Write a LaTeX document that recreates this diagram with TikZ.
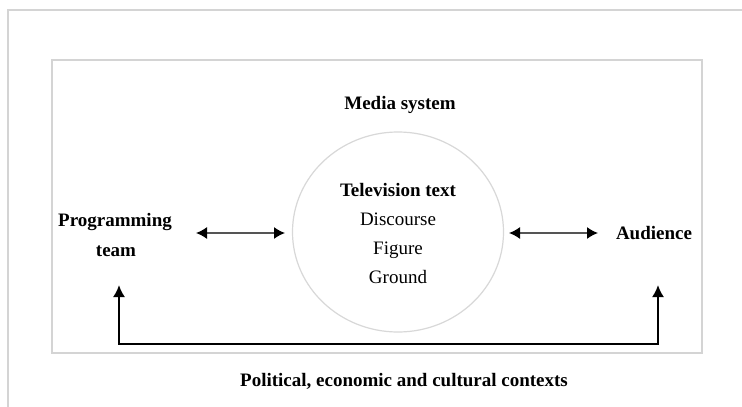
\documentclass[tikz,border=0pt]{standalone}
\usepackage{fontspec}
\setmainfont{Liberation Serif}
\usetikzlibrary{arrows.meta,shapes.geometric}
\definecolor{framegray}{HTML}{D4D4D4}
\definecolor{circgray}{HTML}{D8D8D8}
\definecolor{arrgray}{HTML}{555555}
\tikzset{
  txt/.style={inner sep=0pt, text height=13pt, text depth=4pt, font=\fontsize{19}{29}\selectfont},
  btxt/.style={txt, font=\fontsize{19}{29}\selectfont\bfseries},
  frameline/.style={draw=framegray, line width=1.4pt},
  dblarrow/.style={draw=arrgray, line width=1.5pt, {Latex[length=11pt,width=12pt,color=black]}-{Latex[length=11pt,width=12pt,color=black]}},
  bracket/.style={draw=black, line width=2pt, {Latex[length=12pt,width=12pt]}-{Latex[length=12pt,width=12pt]}}
}
\begin{document}
\begin{tikzpicture}[x=1pt,y=-1pt]
\useasboundingbox[fill=white] (0,0) rectangle (742,407);
% outer partial frame
\coordinate (ot) at (742,10);
\coordinate (oc) at (8,10);
\coordinate (ob) at (8,407);
\draw[frameline] (ot) -- (oc) -- (ob);
% inner frame
\coordinate (ia) at (52,60);
\coordinate (ib) at (702,353);
\draw[frameline] (ia) rectangle (ib);
% texts
\node[btxt] (media) at (400,105) {Media system};
\node[draw=circgray, line width=1.2pt, ellipse, minimum width=211pt, minimum height=200pt, inner sep=0pt] (circ) at (398,232) {};
\node[btxt] (tv) at (398,192) {Television text};
\node[txt] (disc) at (398,221) {Discourse};
\node[txt] (fig) at (398,250) {Figure};
\node[txt] (grd) at (398,279) {Ground};
\node[btxt] (prog1) at (115,222) {Programming};
\node[btxt] (prog2) at (116,252) {team};
\node[btxt] (aud) at (654,235) {Audience};
\node[btxt] (ctx) at (404,382) {Political, economic and cultural contexts};
% double arrows
\coordinate (la) at (196,233);
\coordinate (lb) at (285,233);
\coordinate (ra) at (509,233);
\coordinate (rb) at (598,233);
\draw[dblarrow] (la) -- (lb);
\draw[dblarrow] (ra) -- (rb);
% bracket
\coordinate (bt1) at (119,285);
\coordinate (bb1) at (119,344);
\coordinate (bb2) at (658,344);
\coordinate (bt2) at (658,285);
\draw[bracket] (bt1) -- (bb1) -- (bb2) -- (bt2);
\end{tikzpicture}
\end{document}
